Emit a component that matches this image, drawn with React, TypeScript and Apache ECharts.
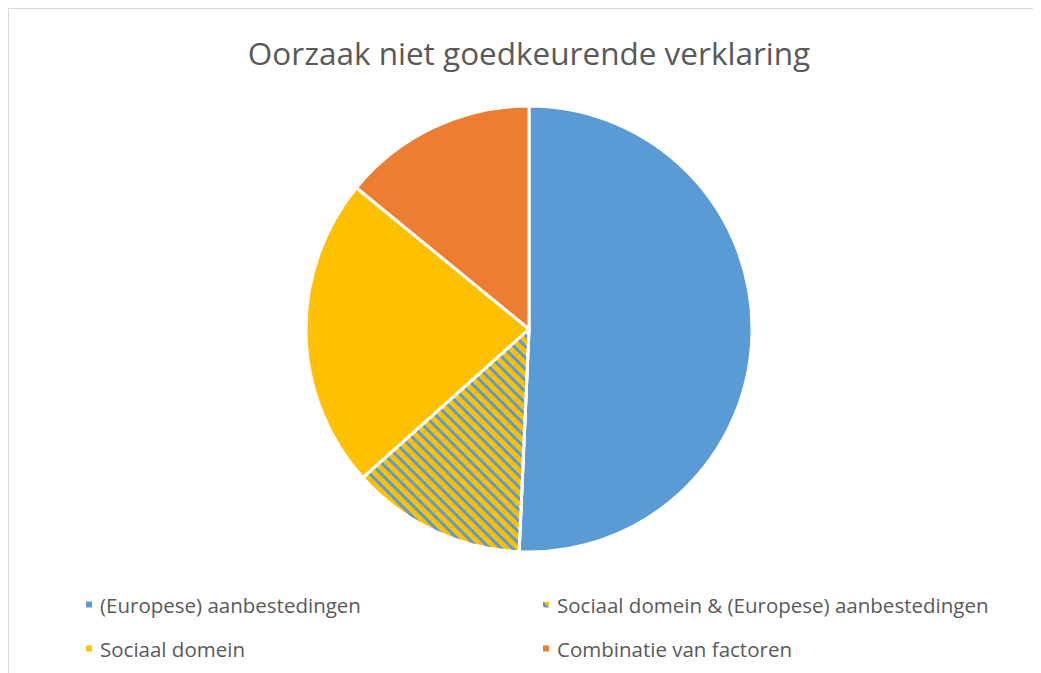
import React, { useEffect, useRef } from "react";
import * as echarts from "echarts";

const categories = [
  "(Europese) aanbestedingen",
  "Sociaal domein & (Europese) aanbestedingen",
  "Sociaal domein",
  "Combinatie van factoren",
];
const values = [36, 9, 16, 10];
const colors = ["#5B9BD5", "#FFC000", "#FFC000", "#ED7D31"];
const titleText = "Oorzaak niet goedkeurende verklaring";

export default function App() {
  const ref = useRef<HTMLDivElement>(null);
  useEffect(() => {
    if (!ref.current) return;
    const chart = echarts.init(ref.current, undefined, { renderer: "svg" });
    const font = "'Open Sans', sans-serif";
    const legendPos = [
      { left: 75, top: 585 },
      { left: 532, top: 585 },
      { left: 75, top: 629 },
      { left: 532, top: 629 },
    ];
    chart.setOption({
      animation: false,
      backgroundColor: "#ffffff",
      title: {
        text: titleText,
        left: 515,
        top: 22,
        textAlign: "center",
        textStyle: { fontFamily: font, fontSize: 31.5, fontWeight: "normal", color: "#595959" },
      },
      legend: legendPos.map((p, i) => ({
        data: [categories[i]],
        left: p.left,
        top: p.top,
        padding: 0,
        icon: "rect",
        itemWidth: 8,
        itemHeight: 8,
        itemGap: 0,
        selectedMode: false,
        textStyle: { fontFamily: font, fontSize: 20.5, color: "#595959", padding: [0, 0, 0, 2] },
      })),
      series: [
        {
          type: "pie",
          center: [520, 320],
          radius: [0, 223],
          startAngle: 90,
          clockwise: true,
          label: { show: false },
          labelLine: { show: false },
          emphasis: { disabled: true },
          itemStyle: { borderColor: "#ffffff", borderWidth: 3 },
          data: categories.map((name, i) => ({
            name,
            value: values[i],
            itemStyle:
              i === 1
                ? {
                    color: colors[i],
                    decal: {
                      symbol: "rect",
                      color: "#5B9BD5",
                      dashArrayX: [1, 0],
                      dashArrayY: [3, 5],
                      rotation: Math.PI / 4,
                    },
                  }
                : { color: colors[i] },
          })),
        },
      ],
    });
    return () => chart.dispose();
  }, []);
  return (
    <div
      ref={ref}
      style={{
        width: 1033,
        height: 665,
        borderTop: "1px solid #d9d9d9",
        borderLeft: "1px solid #d9d9d9",
        boxSizing: "border-box",
      }}
    />
  );
}
